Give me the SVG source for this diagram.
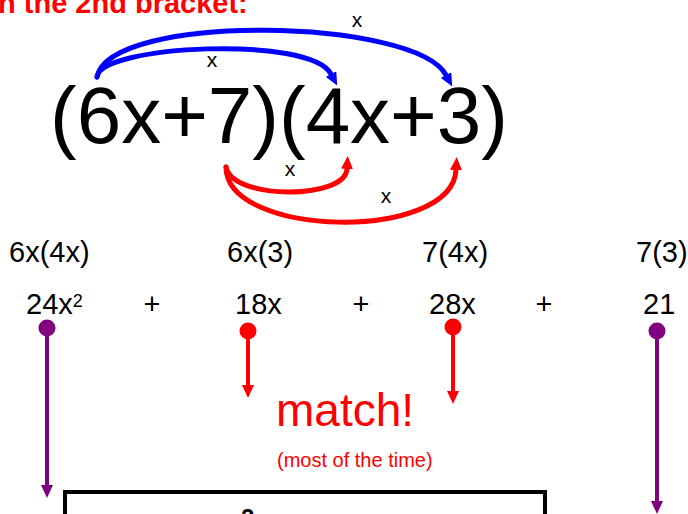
<svg xmlns="http://www.w3.org/2000/svg" width="688" height="514" viewBox="0 0 688 514">
<style>
text{font-family:"Liberation Sans",Arial,sans-serif}
.lbl{font-size:29px;fill:#000}
.sm{font-size:21px;fill:#000;text-anchor:middle}
.arc{fill:none;stroke-width:5;stroke-linecap:round}
.vl{fill:none;stroke-width:4}
</style>
<defs>
<marker id="hb" markerUnits="userSpaceOnUse" markerWidth="14" markerHeight="12" refX="0" refY="6" orient="auto" viewBox="0 0 14 12"><path d="M0,0 L13,6 L0,12 z" fill="#0000ff"/></marker>
<marker id="hr" markerUnits="userSpaceOnUse" markerWidth="14" markerHeight="12" refX="0" refY="6" orient="auto" viewBox="0 0 14 12"><path d="M0,0 L13,6 L0,12 z" fill="#ff0000"/></marker>
<marker id="hp" markerUnits="userSpaceOnUse" markerWidth="14" markerHeight="12" refX="0" refY="6" orient="auto" viewBox="0 0 14 12"><path d="M0,0 L13,6 L0,12 z" fill="#800080"/></marker>
</defs>
<g id="title"><text x="-2" y="13" font-size="29" font-weight="bold" fill="#ff0000">n the 2nd bracket:</text></g>
<g id="expression"><text x="50" y="143" font-size="80" fill="#000">(6x+7)(4x+3)</text></g>
<g id="connectors">
<path class="arc" stroke="#0000ff" d="M97,77 C100,45 310,35 331,74" marker-end="url(#hb)"/>
<path class="arc" stroke="#0000ff" d="M97,77 C110,12 415,18 446,75" marker-end="url(#hb)"/>
<path class="arc" stroke="#ff0000" d="M226,167 C232,200 345,200 347,169" marker-end="url(#hr)"/>
<path class="arc" stroke="#ff0000" d="M226,167 C226,238 452,242 456,170" marker-end="url(#hr)"/>
<line class="vl" stroke="#800080" x1="47" y1="328" x2="47" y2="485" marker-end="url(#hp)"/>
<line class="vl" stroke="#ff0000" x1="248" y1="331" x2="248" y2="385" marker-end="url(#hr)"/>
<line class="vl" stroke="#ff0000" x1="453" y1="327" x2="453" y2="391" marker-end="url(#hr)"/>
<line class="vl" stroke="#800080" x1="657" y1="331" x2="657" y2="501" marker-end="url(#hp)"/>
<circle cx="47" cy="328" r="8.5" fill="#800080"/>
<circle cx="248" cy="331" r="8.5" fill="#ff0000"/>
<circle cx="453" cy="327" r="8.5" fill="#ff0000"/>
<circle cx="657" cy="331" r="8.5" fill="#800080"/>
</g>
<g id="arc-labels">
<text class="sm" x="357" y="27">x</text>
<text class="sm" x="212" y="67">x</text>
<text class="sm" x="290" y="176">x</text>
<text class="sm" x="386" y="203">x</text>
</g>
<g id="products">
<text class="lbl" x="9" y="262">6x(4x)</text>
<text class="lbl" x="227" y="262">6x(3)</text>
<text class="lbl" x="422" y="262">7(4x)</text>
<text class="lbl" x="636" y="262">7(3)</text>
</g>
<g id="terms">
<text class="lbl" x="26" y="314">24x<tspan font-size="18" dy="-7">2</tspan></text>
<text class="lbl" x="152" y="314" text-anchor="middle">+</text>
<text class="lbl" x="235" y="314">18x</text>
<text class="lbl" x="361" y="314" text-anchor="middle">+</text>
<text class="lbl" x="429" y="314">28x</text>
<text class="lbl" x="544" y="314" text-anchor="middle">+</text>
<text class="lbl" x="643" y="314">21</text>
</g>
<g id="match">
<text x="276" y="426" font-size="46" fill="#ff0000">match!</text>
<text x="277" y="467" font-size="20" fill="#ff0000">(most of the time)</text>
</g>
<g id="result-box">
<rect x="65" y="492" width="480" height="40" fill="none" stroke="#000" stroke-width="4"/>
<text x="241" y="526" font-size="24" font-weight="bold" fill="#000">2</text>
</g>
</svg>
